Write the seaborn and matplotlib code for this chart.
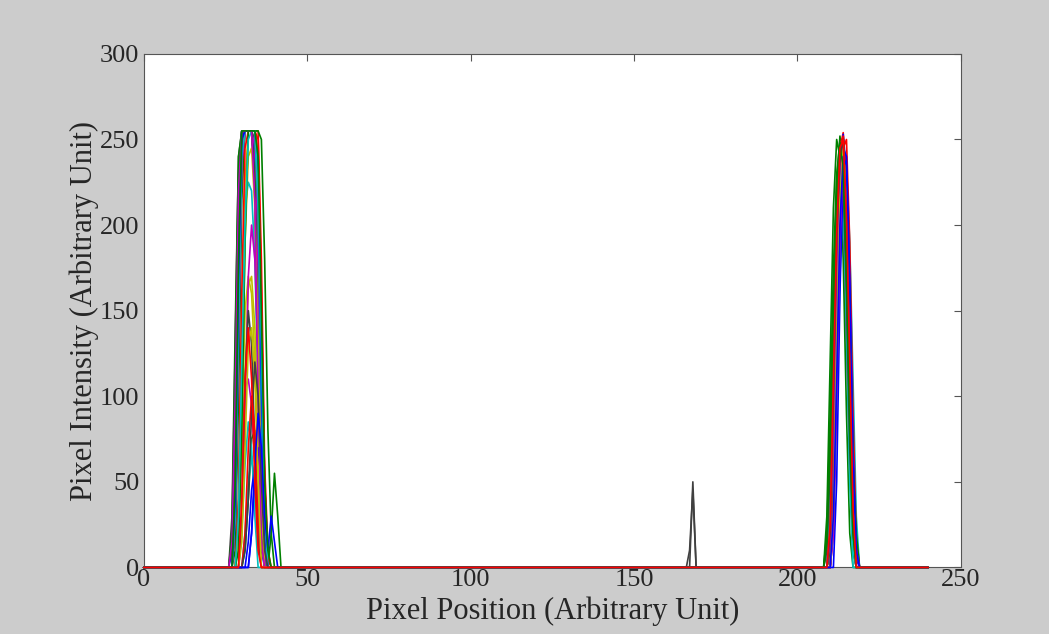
import numpy as np
import pandas as pd
import seaborn as sns
import matplotlib.pyplot as plt

# pixel positions sampled 0..240, all profiles zero outside the two bright spots
x_max = 240

# left spot: start position and intensities for each profile
left_start = [28, 27, 28, 29, 29, 30, 28, 27, 31, 28, 30, 28,
              29, 27, 32, 28, 29, 31, 28, 29, 28, 33, 27, 28,
              28, 30, 29, 30, 28, 29, 31, 29, 27, 30, 31, 33, 28, 30]
left_vals = [
    [60, 190, 255, 255, 255, 255, 255, 200, 90, 10],
    [15, 110, 230, 255, 255, 255, 255, 230, 140, 40],
    [30, 150, 250, 255, 255, 255, 255, 255, 180, 60, 10],
    [40, 140, 210, 225, 220, 180, 100, 30],
    [20, 70, 105, 110, 95, 60, 20],
    [30, 110, 165, 170, 140, 80, 20],
    [40, 160, 245, 255, 255, 255, 250, 190, 90, 20],
    [10, 90, 200, 255, 255, 255, 255, 240, 150, 50, 5],
    [10, 40, 75, 80, 60, 25, 0, 0, 20, 55, 30],
    [50, 170, 250, 255, 255, 255, 255, 235, 130, 30],
    [20, 60, 85, 70, 30],
    [20, 120, 230, 255, 255, 255, 245, 170, 70],
    [30, 130, 225, 255, 255, 255, 230, 140, 40],
    [30, 140, 240, 255, 255, 255, 255, 220, 120, 30],
    [15, 45, 60, 40, 10],
    [10, 100, 215, 255, 255, 255, 255, 210, 100, 20],
    [40, 160, 245, 255, 255, 255, 240, 150, 50],
    [20, 50, 65, 45, 15],
    [30, 130, 235, 255, 255, 255, 255, 200, 80],
    [20, 80, 150, 170, 160, 120, 60, 15],
    [60, 180, 250, 255, 255, 255, 255, 210, 100, 25],
    [20, 55, 70, 50, 20],
    [20, 130, 240, 255, 255, 255, 255, 225, 120, 30],
    [40, 160, 245, 255, 255, 255, 255, 250, 160, 50, 5],
    [30, 140, 240, 255, 255, 255, 255, 210, 90, 15],
    [20, 90, 170, 200, 180, 120, 40],
    [20, 100, 190, 240, 245, 210, 130, 40],
    [30, 110, 150, 130, 70, 15],
    [40, 170, 250, 255, 255, 255, 255, 230, 110, 20],
    [10, 80, 190, 255, 255, 255, 255, 250, 180, 80, 20],
    [20, 70, 100, 80, 30],
    [30, 120, 200, 250, 255, 255, 220, 130, 30],
    [15, 100, 220, 255, 255, 255, 255, 215, 100, 15],
    [15, 70, 130, 140, 110, 50],
    [10, 40, 90, 120, 100, 50, 10],
    [20, 60, 90, 70, 30, 10, 30, 15],
    [50, 180, 255, 255, 255, 255, 255, 240, 150, 50, 10],
    [40, 110, 140, 110, 50, 10],
]

# right spot
right_start = [210, 209, 210, 211, 210, 211, 210, 211, 209, 210, 211, 210,
               210, 211, 210, 209, 211, 210, 211, 210, 210, 212, 210, 210,
               210, 211, 210, 209, 211, 210, 211, 210, 210, 211, 210, 211, 209, 210]
right_vals = [
    [15, 80, 170, 240, 250, 210, 130, 50, 5],
    [10, 60, 150, 225, 252, 235, 160, 70, 15],
    [20, 100, 190, 245, 254, 220, 140, 60, 10],
    [30, 120, 200, 230, 200, 120, 40],
    [10, 70, 150, 200, 190, 130, 60, 10],
    [40, 130, 210, 240, 220, 150, 60],
    [20, 110, 200, 248, 240, 170, 80, 20],
    [30, 140, 230, 253, 230, 150, 50],
    [30, 120, 210, 250, 240, 180, 90, 20],
    [10, 60, 140, 210, 245, 230, 160, 70, 20],
    [20, 90, 170, 220, 235, 190, 110, 30],
    [30, 110, 190, 225, 215, 150, 70, 10],
    [20, 90, 180, 240, 251, 200, 110, 30],
    [40, 150, 235, 250, 210, 120, 40],
    [30, 100, 180, 230, 240, 190, 100, 25],
    [20, 90, 175, 230, 248, 220, 150, 60, 10],
    [20, 110, 200, 245, 250, 190, 90, 15],
    [40, 130, 205, 240, 215, 140, 50],
    [30, 120, 215, 245, 230, 160, 70],
    [10, 70, 160, 225, 245, 210, 130, 40],
    [25, 110, 200, 240, 235, 170, 80, 20],
    [50, 160, 230, 210, 130, 40],
    [15, 80, 170, 235, 250, 215, 140, 60, 20],
    [20, 100, 185, 240, 252, 225, 150, 60, 10],
    [30, 110, 200, 240, 230, 160, 60, 10],
    [20, 100, 190, 240, 225, 150, 50],
    [20, 90, 180, 235, 245, 195, 100, 20],
    [10, 60, 140, 205, 240, 225, 160, 70, 20],
    [30, 120, 210, 245, 240, 170, 70, 10],
    [10, 70, 160, 220, 248, 220, 150, 60, 10],
    [40, 140, 220, 250, 215, 130, 40],
    [20, 90, 170, 225, 240, 200, 120, 40],
    [15, 80, 170, 230, 245, 210, 130, 40, 10],
    [30, 130, 215, 245, 220, 140, 50],
    [20, 100, 190, 240, 250, 200, 110, 30],
    [30, 110, 200, 240, 235, 160, 60, 10],
    [15, 70, 150, 215, 245, 235, 170, 80, 20],
    [25, 110, 195, 245, 250, 205, 120, 35],
]

# stray spike near x=168 on two of the profiles
spike_line = [6, 20]
spike_start = [168, 167]
spike_vals = [[50, 0], [10, 45]]

# old MATLAB colour order
matlab_colors = ['#0000ff', '#008000', '#ff0000', '#00bfbf',
                 '#bf00bf', '#bfbf00', '#404040']


def build_frame():
    rows = []
    xs = np.arange(0, x_max + 1)
    for i in range(len(left_start)):
        y = np.zeros(len(xs))
        for s, v in [(left_start[i], left_vals[i]), (right_start[i], right_vals[i])]:
            y[s:s + len(v)] = v
        for k, li in enumerate(spike_line):
            if li == i:
                v = spike_vals[k]
                y[spike_start[k]:spike_start[k] + len(v)] = v
        for xv, yv in zip(xs, y):
            rows.append({'x': xv, 'y': yv, 'line': f'L{i:02d}'})
    return pd.DataFrame(rows)


def main():
    df = build_frame()
    order = [f'L{i:02d}' for i in range(len(left_start))]
    palette = [matlab_colors[i % 7] for i in range(len(order))]

    sns.set_theme(style='white')
    plt.rcParams['font.family'] = ['Liberation Serif', 'DejaVu Serif']
    plt.rcParams['xtick.direction'] = 'in'
    plt.rcParams['ytick.direction'] = 'in'

    fig = plt.figure(figsize=(10.49, 6.34), dpi=100)
    fig.patch.set_facecolor('#cccccc')
    ax = fig.add_axes([0.137, 0.105, 0.779, 0.81])
    ax.set_facecolor('white')

    sns.lineplot(data=df, x='x', y='y', hue='line', hue_order=order,
                 palette=palette, estimator=None, sort=False, legend=False,
                 linewidth=1.2, ax=ax)
    for ln in ax.get_lines():
        ln.set_zorder(3)
        ln.set_clip_on(False)

    ax.set_xlim(0, 250)
    ax.set_ylim(0, 300)
    ax.set_xticks(range(0, 251, 50))
    ax.set_yticks(range(0, 301, 50))
    ax.tick_params(axis='both', labelsize=19, length=5, width=0.8,
                   color='#555555', top=True, right=True, pad=1)
    ax.tick_params(axis='y', pad=3)
    for sp in ax.spines.values():
        sp.set_color('#555555')
        sp.set_linewidth(0.8)
        sp.set_zorder(2)
    ax.set_xlabel('Pixel Position (Arbitrary Unit)', fontsize=22, labelpad=4)
    ax.set_ylabel('Pixel Intensity (Arbitrary Unit)', fontsize=22, labelpad=1)

    fig.savefig('out.png', dpi=100, facecolor=fig.get_facecolor())
    plt.close(fig)


if __name__ == '__main__':
    main()
